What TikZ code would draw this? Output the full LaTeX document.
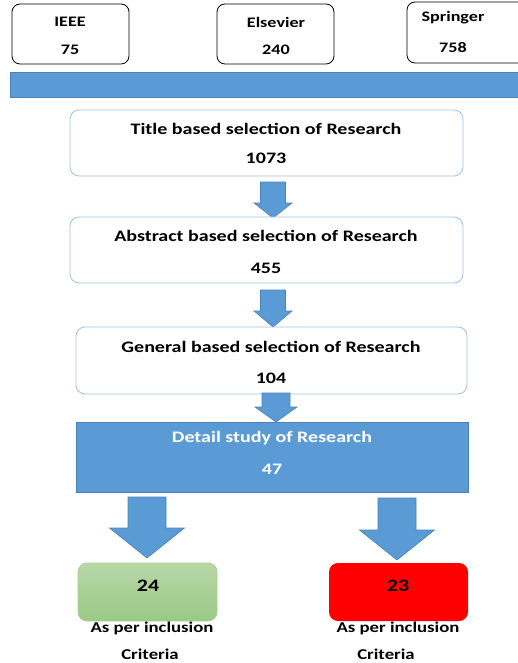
\documentclass[tikz,border=0pt]{standalone}
\usepackage{fontspec}
\setmainfont{Carlito}[FakeStretch=1.25]
\begin{document}
\begin{tikzpicture}[x=1pt,y=-1pt,
  every node/.style={font=\bfseries\fontsize{16}{19}\selectfont, inner sep=0pt},
  srcfont/.style={font=\bfseries\fontsize{14.5}{17}\selectfont},
  outfont/.style={font=\bfseries\fontsize{15}{18}\selectfont},
  numfont/.style={font=\bfseries\fontsize{17.5}{20}\selectfont},
  srcbox/.style={draw=black, line width=0.8pt, rounded corners=8pt, fill=white},
  stagebox/.style={draw=lineblue, line width=0.8pt, rounded corners=9pt, fill=white},
  bluebox/.style={draw=edgeblue, line width=0.8pt, fill=mainblue},
  blockarrow/.style={draw=edgeblue, line width=0.6pt, fill=mainblue}
]
\definecolor{mainblue}{HTML}{5B9BD5}
\definecolor{edgeblue}{HTML}{4A82B8}
\definecolor{lineblue}{HTML}{9DC3E6}
\definecolor{greentop}{HTML}{B7D7A8}
\definecolor{greenbot}{HTML}{9BC985}
\definecolor{greenedge}{HTML}{A9D18E}

\useasboundingbox (0,0) rectangle (517,663);

% downward block arrow: #1 centre x, #2 top y, #3 head start y, #4 tip y, #5 shaft half width, #6 head half width
\newcommand\blkarrow[6]{%
  \draw[blockarrow] (#1-#5,#2) -- (#1+#5,#2) -- (#1+#5,#3) -- (#1+#6,#3)
    -- (#1,#4) -- (#1-#6,#3) -- (#1-#5,#3) -- cycle;}

% sources
\draw[srcbox] (12,4) rectangle (129,64);
\node[srcfont] (ieee) at (70,22) {IEEE};
\node[srcfont] (ieeen) at (70,50) {75};
\draw[srcbox] (217,4) rectangle (334,64);
\node[srcfont] (els) at (276,22) {Elsevier};
\node[srcfont] (elsn) at (276,50) {240};
\draw[srcbox] (407,2) rectangle (530,63);
\node[srcfont] (spr) at (453,18) {Springer};
\node[srcfont] (sprn) at (453,48) {758};

% collecting bar
\draw[bluebox] (10,72) rectangle (530,97);

% title stage
\draw[stagebox] (70,110) rectangle (463,176);
\node (title) at (266,129) {Title based selection of Research};
\node (titlen) at (266,158) {1073};
\blkarrow{273}{182}{203}{218}{12.5}{19}

% abstract stage
\draw[stagebox] (70,217) rectangle (463,283);
\node (abs) at (266,236) {Abstract based selection of Research};
\node (absn) at (266,268) {455};
\blkarrow{273}{290}{311}{327}{12.5}{19}

% general stage
\draw[stagebox] (76,327) rectangle (467,394);
\node (gen) at (271,347) {General based selection of Research};
\node (genn) at (271,378) {104};
\blkarrow{276}{393}{407}{422}{14}{21}

% detail study
\draw[bluebox] (76,422) rectangle (468,492);
\node[text=white] (det) at (272,438) {Detail study of Research};
\node[text=white] (detn) at (272,469) {47};

\blkarrow{147}{497}{528}{558}{19}{37.5}
\blkarrow{397}{498}{530}{560}{19}{37.5}

% outcomes
\shade[top color=greentop, bottom color=greenbot, rounded corners=9pt]
  (78,563) rectangle (217,621);
\draw[greenedge, line width=0.8pt, rounded corners=9pt] (78,563) rectangle (217,621);
\node[numfont] (inc) at (148,586) {24};
\fill[red, rounded corners=9pt] (329,563) rectangle (468,621);
\node[numfont] (exc) at (398,586) {23};

\node[outfont] (inca) at (152,628) {As per inclusion};
\node[outfont] (incb) at (150,654) {Criteria};
\node[outfont] (exca) at (398,628) {As per inclusion};
\node[outfont] (excb) at (386,654) {Criteria};
\end{tikzpicture}
\end{document}
